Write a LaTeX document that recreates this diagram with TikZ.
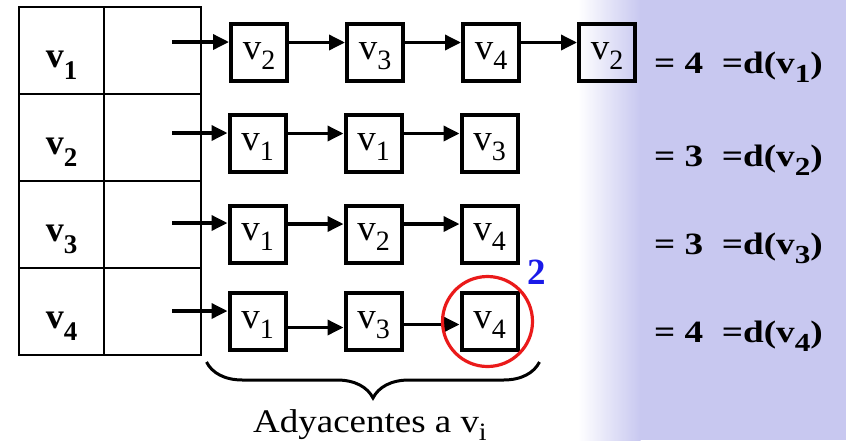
\documentclass[tikz,border=0pt]{standalone}
\usepackage{fontspec}
\setmainfont{Liberation Serif}
\newfontfamily\degfont[FakeStretch=1.2]{Liberation Serif}
\newfontfamily\capfont[FakeStretch=1.12]{Liberation Serif}
\usetikzlibrary{arrows.meta,positioning,decorations.pathreplacing}
\definecolor{bgblue}{HTML}{C8C8F0}
\definecolor{ringred}{HTML}{EA1A1A}
\definecolor{markblue}{HTML}{1A1AE8}
% lowered index: drop, size, text
\newcommand{\idx}[3]{\raisebox{-#1pt}{\fontsize{#2}{#2}\selectfont #3}}

\begin{document}
\begin{tikzpicture}[x=1pt,y=-1pt,node distance=56pt,>={Triangle[length=16pt,width=15pt]}]
\tikzstyle{cell}=[draw,line width=2pt,minimum height=87pt,inner sep=0pt,outer sep=0pt]
\tikzstyle{vert}=[cell,minimum width=85pt,text height=60pt,text depth=27pt,font=\fontsize{36}{36}\selectfont\bfseries]
\tikzstyle{ptr}=[cell,minimum width=97pt]
\tikzstyle{adj}=[draw,line width=4pt,minimum width=56pt,minimum height=57pt,inner sep=0pt,text height=35pt,text depth=22pt,font=\fontsize{37}{37}\selectfont]
\tikzstyle{link}=[->,line width=3.5pt]
\tikzstyle{deg}=[anchor=base west,inner sep=0pt,font=\fontsize{31}{31}\degfont\bfseries]
\useasboundingbox (0,0) rectangle (846,440);
% background
\fill[bgblue] (640,0) rectangle (846,440);
\shade[left color=white,right color=bgblue] (578,0) rectangle (640.5,440);
% table
\node[vert] (vt1) at (61.5,50.5) {v\idx{12}{27}{1}};
\node[ptr,right=0pt of vt1] (pt1) {};
\node[vert,below=0pt of vt1] (vt2) {v\idx{12}{27}{2}};
\node[ptr,right=0pt of vt2] (pt2) {};
\node[vert,below=0pt of vt2] (vt3) {v\idx{12}{27}{3}};
\node[ptr,right=0pt of vt3] (pt3) {};
\node[vert,below=0pt of vt3] (vt4) {v\idx{12}{27}{4}};
\node[ptr,right=0pt of vt4] (pt4) {};
% lists
\node[adj] (a11) at (259,52.5) {v\idx{10}{28}{2}};
\node[adj,right=of a11] (a12) {v\idx{10}{28}{3}};
\node[adj,right=of a12] (a13) {v\idx{10}{28}{4}};
\node[adj,right=of a13] (a14) {v\idx{10}{28}{2}};
\node[adj] (a21) at (257.5,143.5) {v\idx{10}{28}{1}};
\node[adj,right=of a21] (a22) {v\idx{10}{28}{1}};
\node[adj,right=of a22] (a23) {v\idx{10}{28}{3}};
\node[adj] (a31) at (257.5,234) {v\idx{10}{28}{1}};
\node[adj,right=of a31] (a32) {v\idx{10}{28}{2}};
\node[adj,right=of a32] (a33) {v\idx{10}{28}{4}};
\node[adj] (a41) at (257.5,321.5) {v\idx{10}{28}{1}};
\node[adj,right=of a41] (a42) {v\idx{10}{28}{3}};
\node[adj,right=of a42] (a43) {v\idx{10}{28}{4}};
\coordinate (s1) at (172,42);
\coordinate (s2) at (172,133);
\coordinate (s3) at (172,223);
\coordinate (s4) at (172,311);
\draw[link] (s1) -- (s1 -| a11.west);
\draw[link] ([yshift=10pt]a11.east) -- ([yshift=10pt]a12.west);
\draw[link] ([yshift=10pt]a12.east) -- ([yshift=10pt]a13.west);
\draw[link] ([yshift=10pt]a13.east) -- ([yshift=10pt]a14.west);
\draw[link] (s2) -- (s2 -| a21.west);
\draw[link] ([yshift=10pt]a21.east) -- ([yshift=10pt]a22.west);
\draw[link] ([yshift=10pt]a22.east) -- ([yshift=10pt]a23.west);
\draw[link] (s3) -- (s3 -| a31.west);
\draw[link] ([yshift=10pt]a31.east) -- ([yshift=10pt]a32.west);
\draw[link] ([yshift=10pt]a32.east) -- ([yshift=10pt]a33.west);
\draw[link] (s4) -- (s4 -| a41.west);
\draw[link] ([yshift=-6pt]a41.east) -- ([yshift=-6pt]a42.west);
\draw[link] ([yshift=-3pt]a42.east) -- ([yshift=-3pt]a43.west);
% highlight
\node[draw=ringred,line width=3.2pt,circle,minimum size=90pt,inner sep=0pt] (ring) at ([xshift=-2pt]a43.center) {};
\node[font=\fontsize{37}{37}\selectfont\bfseries,text=markblue] (mark) at (537,272) {2};
% brace and caption
\draw[line width=3pt,decorate,decoration={brace,mirror,amplitude=36pt}]
  ([shift={(-21pt,-10pt)}]a41.south west) -- ([shift={(20pt,-10pt)}]a43.south east);
\node[anchor=base,font=\fontsize{33}{33}\capfont] (caption) at (370,432) {Adyacentes a v\idx{8}{25}{i}};
% degrees
\node[deg] (d1) at (654,73) {= 4\ \ =d(v\idx{9}{26}{1})};
\node[deg] (d2) at (654,166) {= 3\ \ =d(v\idx{9}{26}{2})};
\node[deg] (d3) at (654,254) {= 3\ \ =d(v\idx{9}{26}{3})};
\node[deg] (d4) at (654,342) {= 4\ \ =d(v\idx{9}{26}{4})};
\end{tikzpicture}
\end{document}
